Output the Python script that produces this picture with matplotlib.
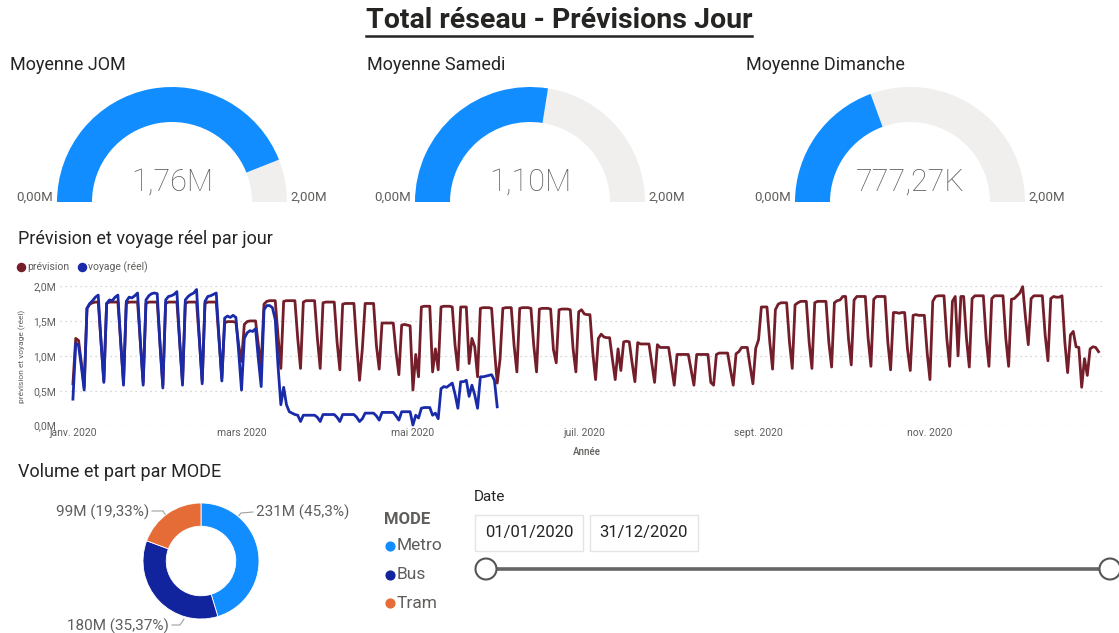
import matplotlib
matplotlib.use("Agg")
import matplotlib.pyplot as plt
import numpy as np
import pandas as pd
from matplotlib.patches import Wedge, Rectangle, Circle

plt.rcParams["font.family"] = ["Roboto", "DejaVu Sans"]

# --- data -------------------------------------------------------------
gauge_titles = ["Moyenne JOM", "Moyenne Samedi", "Moyenne Dimanche"]
gauge_values = [1.76, 1.10, 0.77727]          # millions
gauge_texts = ["1,76M", "1,10M", "777,27K"]
gauge_max = 2.0

# daily forecast from 2020-01-01 (first row Wed-Sun, then Mon-Sun weeks)
prevision = [
    0.60, 1.25, 1.22, 0.90, 0.55,
    1.68, 1.74, 1.76, 1.77, 1.77, 1.20, 0.64,   # 6 janv
    1.75, 1.77, 1.77, 1.77, 1.77, 1.20, 0.62,
    1.75, 1.77, 1.77, 1.77, 1.77, 1.20, 0.62,
    1.75, 1.77, 1.77, 1.77, 1.77, 1.18, 0.58,
    1.75, 1.77, 1.77, 1.77, 1.77, 1.20, 0.62,   # 3 févr
    1.75, 1.77, 1.77, 1.77, 1.77, 1.22, 0.64,
    1.75, 1.77, 1.77, 1.77, 1.77, 1.22, 0.68,
    1.47, 1.49, 1.49, 1.49, 1.48, 1.15, 0.92,
    1.45, 1.49, 1.50, 1.50, 1.50, 1.15, 0.86,   # 2 mars
    1.74, 1.78, 1.79, 1.79, 1.79, 1.28, 0.82,
    1.78, 1.79, 1.79, 1.79, 1.79, 1.25, 0.82,
    1.77, 1.79, 1.79, 1.79, 1.79, 1.25, 0.82,
    1.76, 1.77, 1.77, 1.77, 1.77, 1.20, 0.80,
    1.74, 1.75, 1.75, 1.75, 1.75, 1.15, 0.65,   # 6 avr
    1.10, 1.75, 1.75, 1.75, 1.75, 1.15, 0.81,
    1.47, 1.47, 1.47, 1.47, 1.47, 1.05, 0.73,
    1.44, 1.45, 1.44, 1.43, 0.51, 1.02, 0.70,
    1.70, 1.71, 1.71, 1.71, 0.77, 1.10, 0.80,   # 4 mai
    1.70, 1.71, 1.71, 1.71, 1.70, 1.15, 0.80,
    1.70, 1.70, 1.70, 0.89, 1.25, 1.13, 0.70,
    1.68, 1.69, 1.69, 1.69, 1.68, 1.10, 0.61,
    0.95, 1.68, 1.69, 1.69, 1.69, 1.15, 0.77,   # 1 juin
    1.68, 1.69, 1.69, 1.69, 1.68, 1.15, 0.77,
    1.67, 1.68, 1.68, 1.68, 1.67, 1.09, 0.90,
    1.66, 1.67, 1.67, 1.67, 1.66, 1.10, 0.77,
    1.63, 1.66, 1.60, 1.59, 1.59, 1.05, 0.66,
    1.25, 1.31, 1.27, 1.26, 1.26, 0.95, 0.66,   # 6 juil
    1.10, 0.79, 1.20, 1.21, 1.20, 0.90, 0.63,
    1.19, 1.17, 1.17, 1.17, 1.17, 0.90, 0.62,
    1.16, 1.12, 1.12, 1.12, 1.12, 0.85, 0.58,
    1.02, 1.02, 1.02, 1.02, 1.02, 0.80, 0.58,   # 3 août
    1.02, 1.02, 1.02, 1.02, 1.02, 0.62, 0.58,
    1.02, 1.04, 1.04, 1.04, 1.04, 0.80, 0.58,
    1.03, 1.06, 1.12, 1.12, 1.12, 0.85, 0.60,
    1.11, 1.23, 1.70, 1.70, 1.70, 1.20, 0.81,
    1.66, 1.74, 1.76, 1.76, 1.76, 1.20, 0.82,   # 7 sept
    1.73, 1.76, 1.78, 1.78, 1.78, 1.20, 0.82,
    1.76, 1.78, 1.78, 1.78, 1.78, 1.20, 0.84,
    1.76, 1.79, 1.80, 1.85, 1.85, 1.25, 0.87,
    1.80, 1.85, 1.85, 1.85, 1.85, 1.25, 0.85,   # 5 oct
    1.81, 1.85, 1.85, 1.85, 1.85, 1.20, 0.80,
    1.62, 1.62, 1.61, 1.62, 1.62, 1.10, 0.79,
    1.58, 1.59, 1.58, 1.58, 1.58, 1.05, 0.66,
    1.78, 1.85, 1.86, 1.86, 1.86, 1.25, 0.85,   # 2 nov
    1.78, 1.85, 1.00, 1.85, 1.85, 1.25, 0.84,
    1.82, 1.86, 1.86, 1.86, 1.86, 1.25, 0.85,
    1.82, 1.86, 1.86, 1.86, 1.86, 1.25, 0.85,
    1.81, 1.82, 1.86, 1.90, 1.99, 1.55, 1.16,
    1.82, 1.86, 1.86, 1.86, 1.86, 1.30, 0.93,   # 7 déc
    1.82, 1.85, 1.84, 1.84, 1.86, 1.20, 0.76,
    1.30, 1.35, 1.13, 1.12, 0.55, 0.96, 0.72,
    1.10, 1.13, 1.12, 1.06,
]

# actual trips, same start date, available until 31 May
voyage = [
    0.38, 1.18, 1.15, 0.85, 0.51,
    1.68, 1.75, 1.79, 1.84, 1.87, 1.20, 0.62,
    1.75, 1.80, 1.79, 1.84, 1.87, 1.20, 0.58,
    1.78, 1.84, 1.83, 1.86, 1.90, 1.20, 0.58,
    1.80, 1.86, 1.89, 1.90, 1.89, 1.15, 0.54,
    1.80, 1.85, 1.86, 1.88, 1.92, 1.20, 0.58,
    1.80, 1.85, 1.88, 1.90, 1.95, 1.25, 0.60,
    1.78, 1.85, 1.86, 1.88, 1.90, 1.25, 0.64,
    1.54, 1.57, 1.55, 1.58, 1.55, 1.05, 0.51,
    1.25, 1.33, 1.36, 1.35, 1.39, 0.95, 0.56,
    1.66, 1.72, 1.72, 1.69, 1.52, 0.85, 0.30,
    0.55, 0.30, 0.20, 0.18, 0.16, 0.15, 0.06,
    0.15, 0.15, 0.15, 0.15, 0.15, 0.12, 0.06,
    0.16, 0.16, 0.16, 0.16, 0.16, 0.12, 0.06,
    0.16, 0.16, 0.16, 0.16, 0.16, 0.12, 0.06,
    0.10, 0.18, 0.18, 0.18, 0.18, 0.14, 0.08,
    0.19, 0.19, 0.19, 0.19, 0.19, 0.14, 0.08,
    0.20, 0.20, 0.20, 0.20, 0.01, 0.15, 0.11,
    0.25, 0.26, 0.26, 0.26, 0.15, 0.18, 0.10,
    0.53, 0.56, 0.55, 0.58, 0.61, 0.45, 0.25,
    0.63, 0.63, 0.65, 0.42, 0.58, 0.44, 0.25,
    0.70, 0.70, 0.71, 0.72, 0.73, 0.65, 0.27,
]

month_ticks = ["2020-01-01", "2020-03-01", "2020-05-01", "2020-07-01", "2020-09-01", "2020-11-01"]
month_labels = ["janv. 2020", "mars 2020", "mai 2020", "juil. 2020", "sept. 2020", "nov. 2020"]
y_ticks = [0.0, 0.5, 1.0, 1.5, 2.0]
y_labels = ["0,0M", "0,5M", "1,0M", "1,5M", "2,0M"]

modes = ["Metro", "Bus", "Tram"]
mode_share = [45.3, 35.37, 19.33]
mode_labels = ["231M (45,3%)", "180M (35,37%)", "99M (19,33%)"]
mode_colors = ["#118DFF", "#12239E", "#E66C37"]

date_range = ["01/01/2020", "31/12/2020"]

# --- figure -----------------------------------------------------------
W, H = 1119, 633
fig = plt.figure(figsize=(W / 100, H / 100), dpi=100)
fig.patch.set_facecolor("white")


def fbox(x0, y0, x1, y1):
    # pixel box (top-left origin) -> figure fraction rect
    return [x0 / W, 1 - y1 / H, (x1 - x0) / W, (y1 - y0) / H]


bg = fig.add_axes([0, 0, 1, 1])
bg.set_xlim(0, W)
bg.set_ylim(H, 0)
bg.axis("off")

DARK = "#252423"
GREY = "#605E5C"

# title, underlined
title = bg.text(559, 21, "Total réseau - Prévisions Jour", ha="center", va="center",
                fontsize=20.5, fontweight="bold", color=DARK)
fig.canvas.draw()
bb = title.get_window_extent().transformed(bg.transData.inverted())
bg.plot([bb.x0, bb.x1], [36, 36], color=DARK, lw=1.8)

# gauges
gauge_cx = [172, 530, 910]
gauge_tx = [10, 367, 746]
R, THICK, CY = 115, 35, 202
for cx, tx, t, v, s in zip(gauge_cx, gauge_tx, gauge_titles, gauge_values, gauge_texts):
    bg.text(tx, 65, t, ha="left", va="center", fontsize=13, color=DARK)
    frac = v / gauge_max
    # y axis is inverted: upper half = angles 180..360
    bg.add_patch(Wedge((cx, CY), R, 180 + 180 * frac, 360, width=THICK, color="#F0EFEE", lw=0))
    bg.add_patch(Wedge((cx, CY), R, 180, 180 + 180 * frac, width=THICK, color="#118DFF", lw=0))
    bg.text(cx, 182, s, ha="center", va="center", fontsize=22, fontweight="light", color=GREY)
    bg.text(cx - R - 22, 197, "0,00M", ha="center", va="center", fontsize=9.5, color=GREY)
    bg.text(cx + R + 22, 197, "2,00M", ha="center", va="center", fontsize=9.5, color=GREY)

# line chart
bg.text(18, 239, "Prévision et voyage réel par jour", ha="left", va="center", fontsize=13, color=DARK)
bg.scatter([21], [267], s=34, color="#741E2A")
bg.text(27, 267, "prévision", ha="left", va="center", fontsize=7.5, color=GREY)
bg.scatter([82], [267], s=34, color="#1A2BAA")
bg.text(88, 267, "voyage (réel)", ha="left", va="center", fontsize=7.5, color=GREY)

start = pd.Timestamp("2020-01-01")
dates_prev = pd.date_range(start, periods=len(prevision), freq="D")
dates_voy = pd.date_range(start, periods=len(voyage), freq="D")

ax = fig.add_axes(fbox(60, 286, 1105, 425.7))
ax.plot(dates_prev, prevision, color="#741E2A", lw=2.0, clip_on=False, zorder=3)
ax.plot(dates_voy, voyage, color="#1A2BAA", lw=2.0, clip_on=False, zorder=4)
ax.set_ylim(0, 2.0)
ax.set_xlim(start - pd.Timedelta(days=4.6), start + pd.Timedelta(days=367.3))
ax.set_yticks(y_ticks)
ax.set_yticklabels(y_labels)
ax.set_xticks(pd.to_datetime(month_ticks))
ax.set_xticklabels(month_labels)
ax.tick_params(length=0, labelsize=7.5, labelcolor=GREY, pad=3)
ax.tick_params(axis="x", pad=2)
ax.grid(axis="y", color="#C8C8C8", linestyle=(0, (1, 3)), lw=0.9)
for sp in ax.spines.values():
    sp.set_visible(False)
ax.set_facecolor("none")
bg.text(22, 356, "prévision et voyage (réel)", rotation=90, ha="center", va="center",
        fontsize=6, color=GREY)
bg.text(587, 452, "Année", ha="center", va="center", fontsize=7, color=GREY, fontweight="medium")

# donut
bg.text(18, 472, "Volume et part par MODE", ha="left", va="center", fontsize=13, color=DARK)
axd = fig.add_axes(fbox(131, 491, 271, 631))
axd.pie(mode_share, colors=mode_colors, startangle=90, counterclock=False,
        wedgeprops=dict(width=0.4, edgecolor="white", linewidth=0.6))
axd.set_xlim(-70 / 58, 70 / 58)
axd.set_ylim(-70 / 58, 70 / 58)
axd.set_aspect("equal")
axd.axis("off")

bg.text(256, 512, mode_labels[0], ha="left", va="center", fontsize=11, color=GREY)
bg.plot([237, 241, 253], [518, 513, 512], color="#A0A0A0", lw=0.8)
bg.text(149, 512, mode_labels[2], ha="right", va="center", fontsize=11, color=GREY)
bg.plot([152, 163, 167], [511, 511, 517], color="#A0A0A0", lw=0.8)
bg.text(169, 626, mode_labels[1], ha="right", va="center", fontsize=11, color=GREY)
bg.plot([172, 180, 184], [625, 625, 619], color="#A0A0A0", lw=0.8)

# legend
bg.text(384, 520, "MODE", ha="left", va="center", fontsize=12, fontweight="bold", color=GREY)
for i, (m, c) in enumerate(zip(modes, mode_colors)):
    y = 546 + 28.5 * i
    bg.scatter([390], [y], s=40, color=c)
    bg.text(397, y, m, ha="left", va="center", fontsize=12.5, color=GREY)

# date slicer
bg.text(474, 497, "Date", ha="left", va="center", fontsize=11, color=DARK)
for x0, s in zip([475, 590], date_range):
    bg.add_patch(Rectangle((x0, 515), 108, 36, fc="white", ec="#E4E4E4", lw=1))
    bg.text(x0 + 54, 533, s, ha="center", va="center", fontsize=12, color=DARK)
bg.plot([486, 1110], [569, 569], color="#666666", lw=2.6, zorder=2)
for cx in [486, 1110]:
    bg.add_patch(Circle((cx, 569), 10.5, fc="white", ec="#555555", lw=1.5, zorder=3))

fig.savefig("out.png", dpi=100)
